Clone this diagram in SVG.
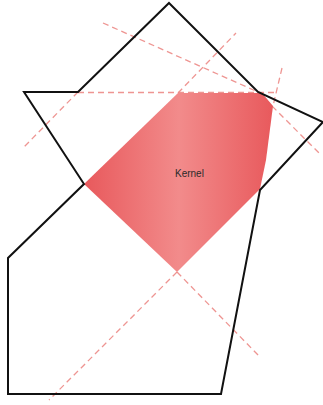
<svg xmlns="http://www.w3.org/2000/svg" width="323" height="405" viewBox="0 0 323 405">
  <defs>
    <linearGradient id="kgrad" x1="84" y1="0" x2="274" y2="0" gradientUnits="userSpaceOnUse">
      <stop offset="0" stop-color="#e8595c"/>
      <stop offset="0.5" stop-color="#f28b8b"/>
      <stop offset="1" stop-color="#e8595c"/>
    </linearGradient>
    <style>
      .ext { stroke: #ec8a86; stroke-width: 1.3; stroke-dasharray: 6 4; fill: none; opacity: 0.9; }
      .outline { stroke: #111; stroke-width: 2; fill: none; stroke-linejoin: miter; }
      .label { font-family: "Liberation Sans", Arial, sans-serif; font-size: 10px; fill: #2a2a2a; }
    </style>
  </defs>
  <rect width="323" height="405" fill="#fff"/>
  <g id="extensions">
    <line class="ext" x1="78" y1="92" x2="23" y2="148"/>
    <line class="ext" x1="178" y1="93" x2="236" y2="33"/>
    <line class="ext" x1="78" y1="92.5" x2="277" y2="92.5"/>
    <line class="ext" x1="103" y1="23" x2="258" y2="92"/>
    <line class="ext" x1="282" y1="68" x2="273" y2="106"/>
    <line class="ext" x1="258" y1="92" x2="321" y2="155"/>
    <line class="ext" x1="177" y1="272" x2="49" y2="400"/>
    <line class="ext" x1="177" y1="272" x2="260" y2="357"/>
  </g>
  <g id="kernel">
    <polygon points="84,184 178,93 262,93 273,106 266,160 260,189 177,272" fill="url(#kgrad)"/>
    <text class="label" x="175" y="177">Kernel</text>
  </g>
  <g id="polygon">
    <polygon class="outline" points="169,3 258,92 323,122 260,190 221,394 8,394 8,258 84,184 24,92 78,92"/>
  </g>
</svg>
